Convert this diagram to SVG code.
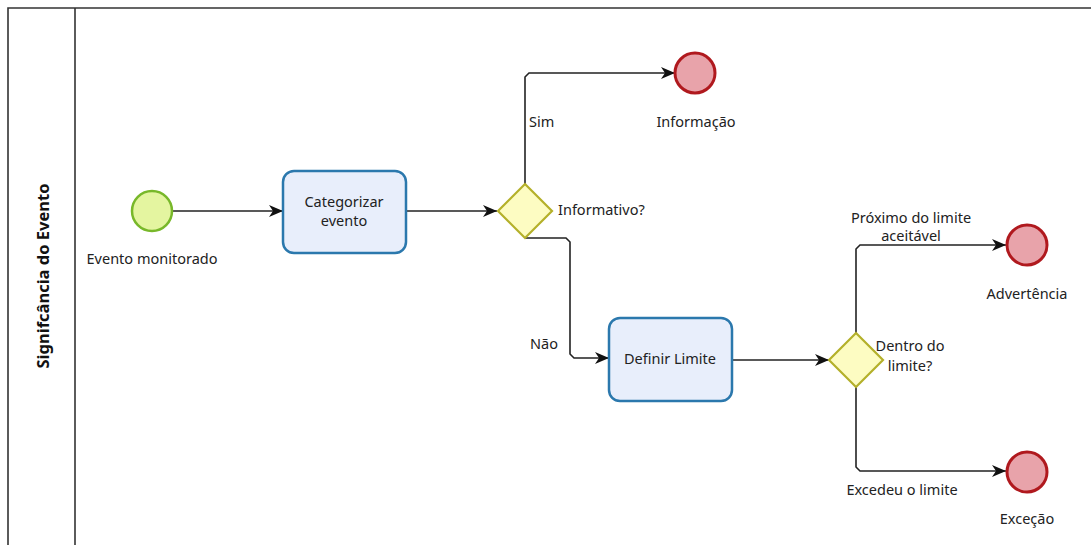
<svg xmlns="http://www.w3.org/2000/svg" width="1091" height="545" viewBox="0 0 1091 545">
  <defs>
    <marker id="arrow" viewBox="0 0 14 12" refX="14" refY="6" markerWidth="14" markerHeight="12" markerUnits="userSpaceOnUse" orient="auto">
      <path d="M0,0 L14,6 L0,12 L4,6 Z" fill="#111"/>
    </marker>
    <style>
      .lane { fill: none; stroke: #333; stroke-width: 1.6; }
      .flow { fill: none; stroke: #222; stroke-width: 1.6; marker-end: url(#arrow); }
      .start { fill: #e4f5a0; stroke: #78b82a; stroke-width: 2.5; }
      .end { fill: #e8a3aa; stroke: #b0191e; stroke-width: 3; }
      .task { fill: #e8eefb; stroke: #2b78ad; stroke-width: 2.5; }
      .gw { fill: #fdfcc2; stroke: #b4b02a; stroke-width: 2.2; }
      text { font-family: "Noto Sans", "Open Sans", "DejaVu Sans", sans-serif; font-size: 14.5px; fill: #222; }
      .c { text-anchor: middle; }
      .title { font-weight: bold; font-size: 16.5px; fill: #111; }
    </style>
  </defs>

  <!-- pool and lane -->
  <g id="pool">
    <path class="lane" d="M8,545 L8,8 L1091,8"/>
    <line class="lane" x1="75" y1="8" x2="75" y2="545"/>
    <text class="title c" transform="translate(49,276) rotate(-90)">Signifcância do Evento</text>
  </g>

  <!-- connectors -->
  <g id="connectors">
    <path class="flow" d="M173,211 L283,211"/>
    <path class="flow" d="M406,211 L497,211"/>
    <path class="flow" d="M525,184 L525,77 L529,73 L675,73"/>
    <path class="flow" d="M525,238 L566,238 L570,242 L570,354 L574,358 L609,358"/>
    <path class="flow" d="M732,360 L829,360"/>
    <path class="flow" d="M856,333 L856,249 L860,245 L1006,245"/>
    <path class="flow" d="M856,387 L856,467 L860,471 L1006,471"/>
    <text x="529" y="127">Sim</text>
    <text x="530" y="349">Não</text>
    <text class="c" x="911" y="223">Próximo do limite</text>
    <text class="c" x="911" y="241">aceitável</text>
    <text class="c" x="902" y="495">Excedeu o limite</text>
  </g>

  <!-- nodes -->
  <g id="start-evento-monitorado">
    <circle class="start" cx="152" cy="211" r="20"/>
    <text class="c" x="152" y="264">Evento monitorado</text>
  </g>

  <g id="task-categorizar">
    <rect class="task" x="283" y="171" width="123" height="82" rx="11"/>
    <text class="c" x="344" y="207">Categorizar</text>
    <text class="c" x="344" y="226">evento</text>
  </g>

  <g id="gw-informativo">
    <path class="gw" d="M525,184 L552,211 L525,238 L498,211 Z"/>
    <text x="558" y="215">Informativo?</text>
  </g>

  <g id="end-informacao">
    <circle class="end" cx="695" cy="73" r="20"/>
    <text class="c" x="696" y="127">Informação</text>
  </g>

  <g id="task-definir-limite">
    <rect class="task" x="609" y="318" width="123" height="83" rx="11"/>
    <text class="c" x="670" y="364">Definir Limite</text>
  </g>

  <g id="gw-dentro-limite">
    <path class="gw" d="M856,333 L883,360 L856,387 L829,360 Z"/>
    <text class="c" x="910" y="351">Dentro do</text>
    <text class="c" x="910" y="371">limite?</text>
  </g>

  <g id="end-advertencia">
    <circle class="end" cx="1027" cy="245" r="20"/>
    <text class="c" x="1027" y="299">Advertência</text>
  </g>

  <g id="end-excecao">
    <circle class="end" cx="1027" cy="472" r="20"/>
    <text class="c" x="1027" y="524">Exceção</text>
  </g>
</svg>
